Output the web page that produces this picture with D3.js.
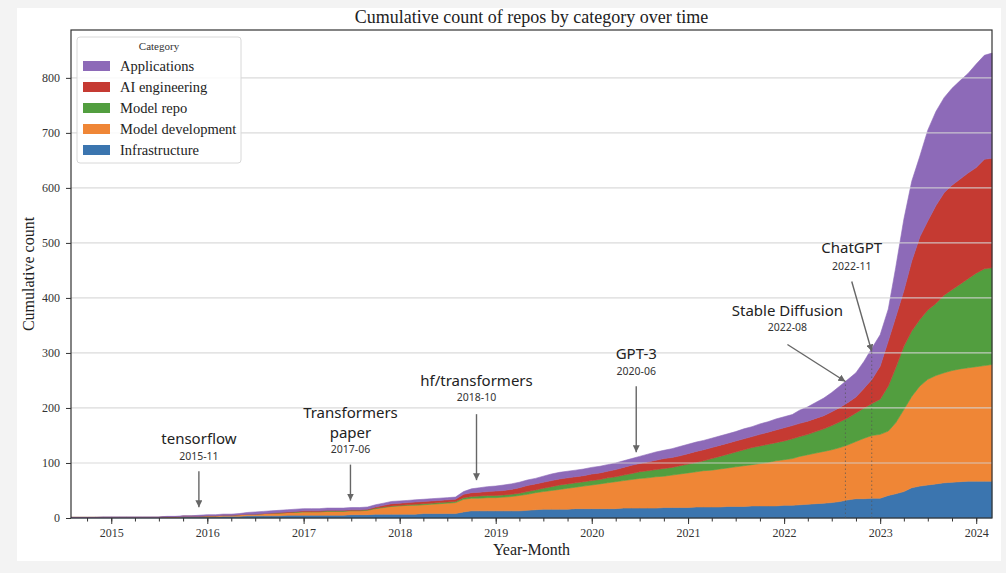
<!DOCTYPE html>
<html>
<head>
<meta charset="utf-8">
<script src="https://cdn.jsdelivr.net/npm/d3@7"></script>
<style>
    body { margin: 0; background: #f3f3f3; }
    svg { display: block; }
</style>
</head>
<body>
<div id="chart"></div>
<script>

// monthly cumulative counts, 2014-08 .. 2024-03
var startMonth = "2014-08-01",
    endMonth = "2024-03-01";

var categories = ["Infrastructure", "Model development", "Model repo", "AI engineering", "Applications"];

var infrastructure = [
    1,1,1,1,1,
    1,1,1,1,1,1,1,1,1,2,2,2,
    2,2,3,3,3,4,4,4,4,4,5,5,
    5,5,5,5,5,5,6,6,6,7,7,7,
    7,7,7,8,8,8,8,8,11,13,13,13,
    13,13,13,13,14,15,16,16,16,16,17,17,
    17,17,17,17,18,18,18,18,18,19,19,19,
    19,20,20,20,20,21,21,21,22,22,22,22,
    23,23,24,25,26,27,28,30,33,35,35,36,
    36,41,44,48,55,58,60,62,64,65,66,67,
    67,67,67
];

var modelDevelopment = [
    0,0,0,0,0,
    0,0,0,0,0,0,0,1,1,1,1,1,
    2,2,2,2,3,3,3,4,5,5,5,5,
    6,6,6,7,7,7,7,7,8,10,12,14,
    15,16,16,16,17,18,19,20,23,23,23,24,
    24,25,26,28,29,31,32,34,36,38,39,41,
    43,45,47,49,50,52,54,55,57,57,59,61,
    63,64,66,67,69,70,72,74,75,77,79,82,
    83,85,88,90,92,94,96,98,100,104,110,114,
    116,117,129,149,166,182,192,197,200,203,205,206,
    208,210,212
];

var modelRepo = [
    0,0,0,0,0,
    0,0,0,0,0,0,0,0,0,0,0,0,
    0,0,0,0,0,0,0,0,0,0,0,1,
    1,1,1,1,1,1,1,1,1,1,1,1,
    1,1,2,2,2,2,2,2,3,3,4,4,
    4,4,4,4,5,5,6,7,8,8,8,8,
    8,8,9,9,10,11,12,13,13,14,14,15,
    16,17,18,21,23,25,27,29,31,32,33,33,
    34,36,36,37,39,41,44,47,49,52,55,58,
    64,82,100,115,119,121,126,131,141,147,154,162,
    170,176,176
];

var aiEngineering = [
    0,0,0,0,0,
    0,0,0,0,0,0,0,0,0,0,0,0,
    0,0,0,0,0,0,0,0,0,1,1,1,
    1,1,1,1,1,1,1,1,1,2,3,4,
    4,4,4,4,4,4,4,4,6,7,7,7,
    8,8,9,10,11,11,11,11,11,11,11,11,
    12,12,12,13,14,15,15,16,17,18,18,18,
    19,20,20,20,20,20,20,20,20,21,22,23,
    24,24,24,24,24,24,25,26,28,29,36,44,
    60,82,92,101,127,150,162,178,186,190,191,192,
    192,199,199
];

var applications = [
    0,0,0,0,1,
    1,1,1,1,1,1,1,1,1,1,1,2,
    2,2,2,2,2,3,4,4,4,4,4,4,
    4,4,4,4,4,4,4,4,4,4,4,4,
    4,4,4,4,4,4,4,4,5,7,8,9,
    9,10,10,10,10,10,11,12,12,12,12,12,
    12,12,12,12,12,12,13,14,15,15,16,17,
    17,17,17,17,17,17,17,18,18,19,19,20,
    20,20,24,26,29,32,35,39,42,44,49,57,
    57,58,90,130,145,147,165,171,173,176,179,181,
    188,189,191
];

var seriesValues = [infrastructure, modelDevelopment, modelRepo, aiEngineering, applications];

var yTicks = [0, 100, 200, 300, 400, 500, 600, 700, 800];
var xTickYears = [2015, 2016, 2017, 2018, 2019, 2020, 2021, 2022, 2023, 2024];

var eventNames = [["tensorflow"], ["Transformers", "paper"], ["hf/transformers"], ["GPT-3"], ["Stable Diffusion"], ["ChatGPT"]];
var eventLabels = ["2015-11", "2017-06", "2018-10", "2020-06", "2022-08", "2022-11"];
var eventDates = ["2015-11-30", "2017-06-28", "2018-10-20", "2020-06-18", "2022-08-22", "2022-11-30"];


var Chart = (function() {

    var width = 1006,
        height = 573,
        plot = { left: 71, right: 992, top: 30, bottom: 518 };

    var colors = {
        "Infrastructure": "#3b75af",
        "Model development": "#ef8636",
        "Model repo": "#529e3f",
        "AI engineering": "#c53a32",
        "Applications": "#8d6ab8"
    };

    var serif = "'Liberation Serif', 'DejaVu Serif', serif",
        sans = "'Noto Sans', 'Open Sans', sans-serif";

    // arrow geometry relative to the tip, in pixels
    var eventLayout = [
        { gap: 8, from: [0, -36], lines: [-63], sub: -47 },
        { gap: 7, from: [0, -36], lines: [-83, -63], sub: -48 },
        { gap: 8, from: [0, -66], lines: [-94], sub: -79 },
        { gap: 5, from: [0, -66], lines: [-93], sub: -77 },
        { gap: 0, from: [-58, -37], lines: [-65], sub: -50, dotted: true },
        { gap: -3, from: [-20, -70], lines: [-98], sub: -81, dotted: true }
    ];

    var parseDate = d3.timeParse("%Y-%m-%d");
    var months = d3.timeMonth.range(parseDate(startMonth), d3.timeMonth.offset(parseDate(endMonth), 1));

    var rows = months.map(function(m, i) {
        var row = { date: m };
        categories.forEach(function(c, j) { row[c] = seriesValues[j][i]; });
        return row;
    });

    var x = d3.scaleTime()
        .domain([months[0], months[months.length - 1]])
        .range([plot.left, plot.right]);

    var y = d3.scaleLinear()
        .domain([0, 887])
        .range([plot.bottom, plot.top]);

    var svg = d3.select("#chart").append("svg")
        .attr("width", width)
        .attr("height", height);

    var init = function() {
        svg.append("rect")
            .attr("x", 17).attr("y", 8)
            .attr("width", 984).attr("height", 553)
            .attr("fill", "#fff");

        drawTitle();
        drawAreas();
        drawGrid();
        drawAxes();
        drawEvents();
        drawLegend();
    };

    var drawTitle = function() {
        svg.append("text")
            .attr("x", (plot.left + plot.right) / 2)
            .attr("y", 23)
            .attr("text-anchor", "middle")
            .style("font-family", serif)
            .style("font-size", "18px")
            .attr("fill", "#222")
            .text("Cumulative count of repos by category over time");
    };

    var stacked;

    var drawAreas = function() {
        stacked = d3.stack().keys(categories)(rows);

        var area = d3.area()
            .x(function(d) { return x(d.data.date); })
            .y0(function(d) { return y(d[0]); })
            .y1(function(d) { return y(d[1]); });

        svg.append("g").selectAll("path")
            .data(stacked)
            .enter().append("path")
            .attr("d", area)
            .attr("fill", function(d) { return colors[d.key]; })
            .attr("stroke", function(d) { return colors[d.key]; })
            .attr("stroke-width", 0.6);
    };

    var drawGrid = function() {
        svg.append("g").selectAll("line")
            .data(yTicks.slice(1))
            .enter().append("line")
            .attr("x1", plot.left).attr("x2", plot.right)
            .attr("y1", function(d) { return y(d); })
            .attr("y2", function(d) { return y(d); })
            .attr("stroke", "#d4d4d4")
            .attr("stroke-opacity", 0.85)
            .attr("stroke-width", 1.2);
    };

    var drawAxes = function() {
        var yAxis = d3.axisLeft(y)
            .tickValues(yTicks)
            .tickSize(5)
            .tickPadding(6);

        var gy = svg.append("g")
            .attr("transform", "translate(" + plot.left + ",0)")
            .call(yAxis);

        var years = xTickYears.map(function(yr) { return new Date(yr, 0, 1); });

        var xAxis = d3.axisBottom(x)
            .tickValues(years)
            .tickFormat(d3.timeFormat("%Y"))
            .tickSize(6)
            .tickPadding(4);

        var gx = svg.append("g")
            .attr("transform", "translate(0," + plot.bottom + ")")
            .call(xAxis);

        // quarterly minor ticks
        var minor = d3.timeMonth.every(3).range(months[0], months[months.length - 1]);
        var gm = svg.append("g")
            .attr("transform", "translate(0," + plot.bottom + ")")
            .call(d3.axisBottom(x).tickValues(minor).tickSize(3.5).tickFormat(""));
        gm.select(".domain").remove();

        [gx, gy].forEach(function(g) {
            g.select(".domain").remove();
            g.selectAll("text")
                .style("font-family", serif)
                .style("font-size", "12px")
                .attr("fill", "#333");
        });
        svg.selectAll(".tick line").attr("stroke", "#333");

        svg.append("rect")
            .attr("x", plot.left).attr("y", plot.top)
            .attr("width", plot.right - plot.left)
            .attr("height", plot.bottom - plot.top)
            .attr("fill", "none")
            .attr("stroke", "#333")
            .attr("stroke-width", 1.2);

        svg.append("text")
            .attr("x", (plot.left + plot.right) / 2)
            .attr("y", 555)
            .attr("text-anchor", "middle")
            .style("font-family", serif)
            .style("font-size", "16px")
            .attr("fill", "#222")
            .text("Year-Month");

        svg.append("text")
            .attr("transform", "translate(34," + ((plot.top + plot.bottom) / 2) + ") rotate(-90)")
            .attr("text-anchor", "middle")
            .style("font-family", serif)
            .style("font-size", "16px")
            .attr("fill", "#222")
            .text("Cumulative count");
    };

    // total height of the stack at a given date (between months)
    var totalAt = function(date) {
        var top = stacked[stacked.length - 1];
        var i = d3.bisector(function(d) { return d.data.date; }).right(top, date) - 1;
        i = Math.max(0, Math.min(i, top.length - 2));
        var a = top[i], b = top[i + 1];
        var t = (date - a.data.date) / (b.data.date - a.data.date);
        return a[1] + (b[1] - a[1]) * t;
    };

    var drawEvents = function() {
        svg.append("defs").append("marker")
            .attr("id", "head")
            .attr("viewBox", "0 0 10 10")
            .attr("refX", 10).attr("refY", 5)
            .attr("markerWidth", 7).attr("markerHeight", 7)
            .attr("markerUnits", "userSpaceOnUse")
            .attr("orient", "auto")
            .append("path")
            .attr("d", "M0,0 L10,5 L0,10 z")
            .attr("fill", "#666");

        var g = svg.append("g");

        eventDates.forEach(function(ds, i) {
            var lay = eventLayout[i];
            var date = parseDate(ds);
            var tx = x(date),
                total = totalAt(date),
                ty = y(total) - lay.gap;

            if (lay.dotted) {
                g.append("line")
                    .attr("x1", tx).attr("x2", tx)
                    .attr("y1", y(0)).attr("y2", y(total))
                    .attr("stroke", "#555")
                    .attr("stroke-opacity", 0.7)
                    .attr("stroke-dasharray", "1.5,2.5");
            }

            g.append("line")
                .attr("x1", tx + lay.from[0]).attr("y1", ty + lay.from[1])
                .attr("x2", tx).attr("y2", ty)
                .attr("stroke", "#666")
                .attr("stroke-width", 1.4)
                .attr("marker-end", "url(#head)");

            var cx = tx + lay.from[0];

            eventNames[i].forEach(function(line, k) {
                g.append("text")
                    .attr("x", cx)
                    .attr("y", ty + lay.lines[k])
                    .attr("text-anchor", "middle")
                    .style("font-family", sans)
                    .style("font-size", "15px")
                    .attr("fill", "#222")
                    .text(line);
            });

            g.append("text")
                .attr("x", cx)
                .attr("y", ty + lay.sub)
                .attr("text-anchor", "middle")
                .style("font-family", sans)
                .style("font-size", "10.5px")
                .attr("fill", "#333")
                .text(eventLabels[i]);
        });
    };

    var drawLegend = function() {
        var lg = svg.append("g").attr("transform", "translate(77,37)");

        lg.append("rect")
            .attr("width", 164).attr("height", 126)
            .attr("rx", 3)
            .attr("fill", "#fff")
            .attr("fill-opacity", 0.85)
            .attr("stroke", "#d8d8d8");

        lg.append("text")
            .attr("x", 82).attr("y", 13)
            .attr("text-anchor", "middle")
            .style("font-family", serif)
            .style("font-size", "11px")
            .attr("fill", "#333")
            .text("Category");

        var order = categories.slice().reverse();

        var item = lg.selectAll(".item")
            .data(order)
            .enter().append("g")
            .attr("class", "item")
            .attr("transform", function(d, i) { return "translate(0," + (29 + i * 21) + ")"; });

        item.append("rect")
            .attr("x", 6).attr("y", -5)
            .attr("width", 27).attr("height", 10)
            .attr("fill", function(d) { return colors[d]; });

        item.append("text")
            .attr("x", 43).attr("y", 5)
            .style("font-family", serif)
            .style("font-size", "14.5px")
            .attr("fill", "#222")
            .text(function(d) { return d; });
    };

    return {
        init: init
    };

})();

Chart.init();

</script>
</body>
</html>
